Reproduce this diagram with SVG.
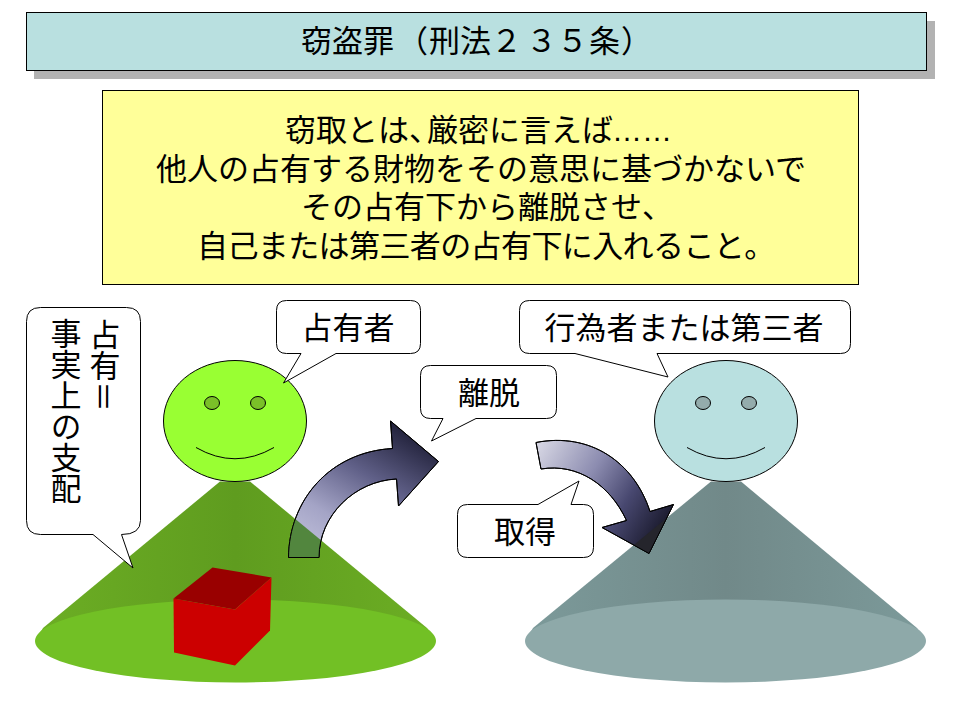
<svg xmlns="http://www.w3.org/2000/svg" width="960" height="720" viewBox="0 0 960 720">
<style>
text{font-family:"Noto Sans CJK JP","Liberation Sans",sans-serif;fill:#000;font-size:31px;text-anchor:middle}
.start{text-anchor:start}
.call{fill:#fff;stroke:#000;stroke-width:1}
.face{stroke:#000;stroke-width:1}
.smile{fill:none;stroke:#000;stroke-width:1}
.arrow{stroke:#000;stroke-width:1}
</style>
<defs>
<linearGradient id="ga1" x1="0.1" y1="1" x2="0.75" y2="0"><stop offset="0" stop-color="#c4c4de"/><stop offset="0.3" stop-color="#a4a4c6"/><stop offset="0.62" stop-color="#606088"/><stop offset="1" stop-color="#1c1c34"/></linearGradient>
<linearGradient id="ga2" x1="0" y1="0.1" x2="1" y2="0.6"><stop offset="0" stop-color="#d4d4e2"/><stop offset="0.4" stop-color="#8c8cb0"/><stop offset="0.7" stop-color="#484870"/><stop offset="1" stop-color="#1c1c30"/></linearGradient>
<linearGradient id="cg" x1="0" y1="0" x2="1" y2="0"><stop offset="0" stop-color="#6cae24"/><stop offset="0.5" stop-color="#5f9c1f"/><stop offset="1" stop-color="#6cae24"/></linearGradient>
<linearGradient id="cb" x1="0" y1="0" x2="1" y2="0"><stop offset="0" stop-color="#7c9a9a"/><stop offset="0.5" stop-color="#718989"/><stop offset="1" stop-color="#7c9a9a"/></linearGradient>
<path id="a1" d="M288.5 557.5C289 500 330 452 392.5 448.5L390.5 421L438.5 461.5L398.5 506L396.5 479C355 481 319 515 319 557.5Z"/>
<path id="a2" d="M536 442.5C590 432 634 462 650 511.5L673.5 504.5L649 553.5L602 527.5L626.5 520.5C610 485 578 463 541 469Z"/>
<clipPath id="c1"><path d="M220 481.5H250L427 628L435 640H36L43 628Z"/></clipPath>
<clipPath id="c2"><path d="M711 481.5H741L917 628L925 640H526L533 628Z"/></clipPath>
</defs>
<g id="title"><rect x="34" y="21" width="901" height="58" fill="#b2b2b2"/><rect x="26.5" y="12.5" width="900" height="58" fill="#b9e0e0" stroke="#000"/><text class="start" x="301" y="52">窃盗罪<tspan x="397">（</tspan><tspan x="429">刑法</tspan><tspan x="491">２</tspan><tspan x="526">３</tspan><tspan x="557">５</tspan><tspan x="589">条</tspan><tspan x="621">）</tspan></text></g>
<g id="definition"><rect x="102.5" y="90.5" width="756" height="194" fill="#ffff99" stroke="#000" stroke-width="1"/>
<text class="start" x="285" y="141">窃取とは、<tspan x="427">厳密に言えば</tspan><tspan x="612" style="font-family:'Liberation Sans',sans-serif;font-size:30px">……</tspan></text>
<text x="481" y="180">他人の占有する財物をその意思に基づかないで</text>
<text class="start" x="301" y="218">その占有下から離脱させ、</text>
<text class="start" x="197" y="257" letter-spacing="-0.6">自己または第三者の占有下に入れること。</text></g>
<g id="owner">
<path d="M220 481.5H250L427 628L435 640H36L43 628Z" fill="url(#cg)"/>
<ellipse cx="235.5" cy="641" rx="200.5" ry="41.5" fill="#72c025"/>
<ellipse class="face" cx="235" cy="421" rx="71.5" ry="60.5" fill="#99ff33"/>
<ellipse class="face" cx="212" cy="403" rx="7.5" ry="6.5" fill="#7ac028"/>
<ellipse class="face" cx="258" cy="403" rx="7.5" ry="6.5" fill="#7ac028"/>
<path class="smile" d="M196 447.5Q235 470 274 447.5"/>
</g>
<g id="box">
<path d="M173.5 598.5L235 609.5V665.5L174 652.5Z" fill="#cc0000"/>
<path d="M173.5 598.5L212.5 567.5L271.5 577.5L235 609.5Z" fill="#990000"/>
<path d="M235 609.5L271.5 577.5L270 630.5L235 665.5Z" fill="#cc0000"/>
</g>
<g id="other">
<path d="M711 481.5H741L917 628L925 640H526L533 628Z" fill="url(#cb)"/>
<ellipse cx="725.5" cy="641" rx="200.5" ry="41.5" fill="#8ea9a9"/>
<ellipse class="face" cx="726" cy="421" rx="71.5" ry="60.5" fill="#b9e0e0"/>
<ellipse class="face" cx="703" cy="403" rx="7.5" ry="6.5" fill="#94acac"/>
<ellipse class="face" cx="749" cy="403" rx="7.5" ry="6.5" fill="#94acac"/>
<path class="smile" d="M687 447.5Q726 470 765 447.5"/>
</g>
<g id="connectors">
<use id="arrow-ridatsu" href="#a1" class="arrow" fill="url(#ga1)"/>
<use href="#a1" clip-path="url(#c1)" fill="#52863e"/>
<use href="#a1" fill="none" stroke="#000"/>
<use id="arrow-shutoku" href="#a2" class="arrow" fill="url(#ga2)"/>
<use href="#a2" clip-path="url(#c2)" fill="#25252c"/>
<use href="#a2" fill="none" stroke="#000"/>
</g>
<g id="callout-senyu"><path class="call" d="M40.5 307.5H126.5Q140.5 307.5 140.5 321.5V520.5Q140.5 534.5 121.5 534.5L133 568L93 534.5H40.5Q26.5 534.5 26.5 520.5V321.5Q26.5 307.5 40.5 307.5Z"/>
<text x="105" y="319" style="writing-mode:vertical-rl;text-anchor:start">占有＝</text>
<text x="66" y="318" style="writing-mode:vertical-rl;text-anchor:start">事実上の支配</text></g>
<g id="callout-owner"><path class="call" d="M286.5 300.5H410.5Q420.5 300.5 420.5 310.5V343.5Q420.5 353.5 410.5 353.5H336L283.5 383L301 353.5H286.5Q276.5 353.5 276.5 343.5V310.5Q276.5 300.5 286.5 300.5Z"/>
<text x="348" y="339">占有者</text></g>
<g id="callout-actor"><path class="call" d="M529.5 300.5H840.5Q850.5 300.5 850.5 310.5V343.5Q850.5 353.5 840.5 353.5H657L668 377L575 353.5H529.5Q519.5 353.5 519.5 343.5V310.5Q519.5 300.5 529.5 300.5Z"/>
<text x="684" y="339">行為者または第三者</text></g>
<g id="callout-ridatsu"><path class="call" d="M430.5 365.5H546.5Q556.5 365.5 556.5 375.5V408.5Q556.5 418.5 546.5 418.5H476L431.5 441L443 418.5H430.5Q420.5 418.5 420.5 408.5V375.5Q420.5 365.5 430.5 365.5Z"/>
<text x="489" y="404">離脱</text></g>
<g id="callout-shutoku"><path class="call" d="M467.5 504.5H538L579 481L571 504.5H583.5Q593.5 504.5 593.5 514.5V547.5Q593.5 557.5 583.5 557.5H467.5Q457.5 557.5 457.5 547.5V514.5Q457.5 504.5 467.5 504.5Z"/>
<text x="525" y="543">取得</text></g>
</svg>
